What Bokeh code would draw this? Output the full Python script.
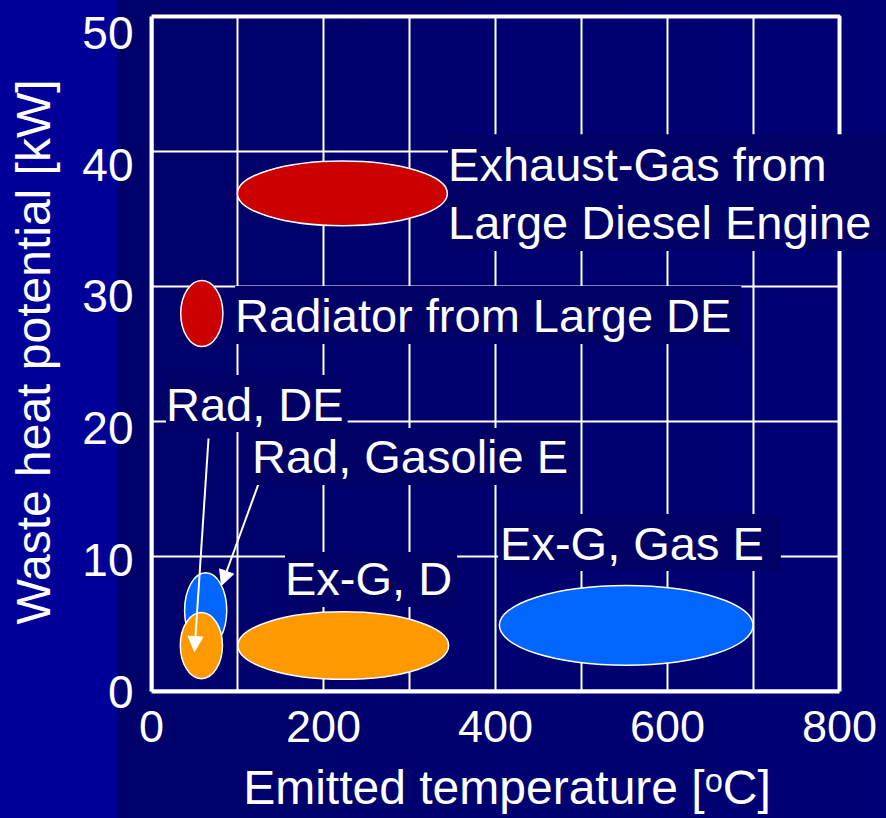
from bokeh.plotting import figure
from bokeh.models import Range1d, FixedTicker, Label, Arrow, NormalHead, LinearAxis
from bokeh.embed import file_html
from bokeh.resources import INLINE

# Waste-heat sources: temperature range (centre, span) vs. heat potential (centre, span)
sources = ["Exhaust-Gas from Large Diesel Engine", "Radiator from Large DE",
           "Rad, DE", "Rad, Gasolie E", "Ex-G, D", "Ex-G, Gas E"]
temp_center = [222, 58.5, 63, 58, 223, 552]
temp_span = [244, 49, 49, 49, 245, 295]
heat_center = [36.9, 28.0, 6.0, 3.4, 3.4, 4.9]
heat_span = [4.8, 4.9, 5.6, 4.9, 5.0, 5.9]
fill_colors = ["#CC0000", "#CC0000", "#0066FF", "#FF9900", "#FF9900", "#0066FF"]

x_ticks = [0, 200, 400, 600, 800]
x_grid = [100, 200, 300, 400, 500, 600, 700]
y_ticks = [0, 10, 20, 30, 40, 50]
y_grid = [10, 20, 30, 40]
X_MAX, Y_MAX = 800, 50

# Label texts, anchors (data units) and box paddings (left, right, top, bottom)
label_texts = ["Exhaust-Gas from", "Large Diesel Engine", "Radiator from Large DE",
               "Rad, DE", "Rad, Gasolie E", "Ex-G, D", "Ex-G, Gas E"]
label_x = [344.8, 344.8, 97.2, 16.9, 114.5, 155.2, 403.0]
label_y = [38.8, 34.66, 27.9, 21.33, 17.4, 8.3, 11.03]
label_pad = [(0, 70, 4, 10), (0, 20, 0, 2), (0, 10, 3, 2), (0, 4, 3, 1),
             (2, 7, 2, 2), (0, 5, 0, 2), (2, 17, 3, 1)]

# Pointer arrows from the small labels to their ellipses
arrow_x0 = [66.3, 131.4]
arrow_y0 = [18.74, 16.6]
arrow_x1 = [50.0, 81.4]
arrow_y1 = [2.96, 7.85]

FONT = "Liberation Sans"
LABEL_BG = "#000066"

# the frame runs past x=800 so the large label box can reach the page edge
p = figure(width=886, height=818, output_backend="svg", toolbar_location=None,
           x_range=Range1d(0, 854.65), y_range=Range1d(0, 50.3),
           min_border_left=151, min_border_right=0,
           min_border_top=12, min_border_bottom=127)
p.extra_y_ranges = {"ticklabels": Range1d(0, 51.56)}

p.styles = {"background": "linear-gradient(to right, #000099 0px, #000099 117px, "
                          "#00006a 117px, #000076 886px)"}
p.border_fill_alpha = 0
p.background_fill_alpha = 0
p.outline_line_color = None
p.xgrid.visible = False
p.ygrid.visible = False

def style_axis(ax, tick_size="46px", title_size="48px"):
    ax.axis_line_color = "white"
    ax.axis_line_width = 4
    ax.major_tick_line_color = None
    ax.minor_tick_line_color = None
    ax.major_label_text_color = "white"
    ax.major_label_text_font = FONT
    ax.major_label_text_font_size = tick_size
    ax.axis_label_text_color = "white"
    ax.axis_label_text_font = FONT
    ax.axis_label_text_font_size = title_size
    ax.axis_label_text_font_style = "normal"

xax = p.xaxis[0]
style_axis(xax, "45px")
xax.bounds = (0, X_MAX)
xax.ticker = FixedTicker(ticks=x_ticks, minor_ticks=[])
xax.major_label_standoff = 13
xax.axis_label = "Emitted temperature [\u1d52C]\u2002"
xax.axis_label_standoff = 16

# left axis line only
yax = p.yaxis[0]
style_axis(yax)
yax.bounds = (0, Y_MAX)
yax.ticker = FixedTicker(ticks=[], minor_ticks=[])
yax.major_label_standoff = 0

# tick labels and title of the vertical axis
ylab = LinearAxis(y_range_name="ticklabels")
style_axis(ylab)
ylab.axis_line_color = None
ylab.ticker = FixedTicker(ticks=y_ticks, minor_ticks=[])
ylab.major_label_standoff = 12
ylab.axis_label = "Waste heat potential [kW]"
ylab.axis_label_standoff = 19
p.add_layout(ylab, "left")

# grid lines and the plot box
p.segment(x0=x_grid, y0=[0] * len(x_grid), x1=x_grid, y1=[Y_MAX] * len(x_grid),
          line_color="white", line_width=2)
p.segment(x0=[0] * len(y_grid), y0=y_grid, x1=[X_MAX] * len(y_grid), y1=y_grid,
          line_color="white", line_width=2)
p.quad(left=[0], right=[X_MAX], bottom=[0], top=[Y_MAX], fill_alpha=0,
       line_color="white", line_width=4)

p.ellipse(x=temp_center, y=heat_center, width=temp_span, height=heat_span,
          fill_color=fill_colors, line_color="white", line_width=1.5)

for xs, ys, xe, ye in zip(arrow_x0, arrow_y0, arrow_x1, arrow_y1):
    p.add_layout(Arrow(x_start=xs, y_start=ys, x_end=xe, y_end=ye,
                       line_color="white", line_width=2,
                       end=NormalHead(size=15, fill_color="white", line_color="white")))

for txt, lx, ly, (pl, pr, pt, pb) in zip(label_texts, label_x, label_y, label_pad):
    p.add_layout(Label(x=lx, y=ly, text=txt, text_align="left", text_baseline="alphabetic",
                       text_color="white", text_font=FONT, text_font_size="47px",
                       background_fill_color=LABEL_BG,
                       padding=dict(left=pl, right=pr, top=pt, bottom=pb)))

open("out.html", "w").write(file_html(p, INLINE))
